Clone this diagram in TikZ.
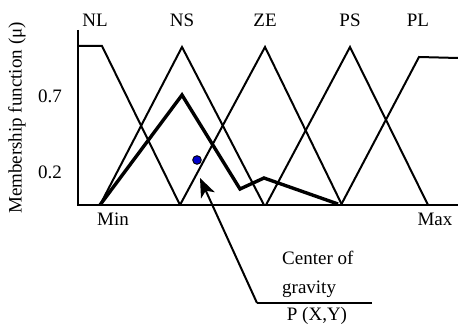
\documentclass[tikz,border=0pt]{standalone}
\usepackage{fontspec}
\setmainfont{Liberation Serif}
\usetikzlibrary{arrows.meta}
\begin{document}
\begin{tikzpicture}[x=1pt,y=-1pt,
  lbl/.style={font=\fontsize{19}{21}\selectfont, inner sep=0pt},
  mf/.style={line width=2pt, line join=miter},
  axis/.style={line width=2.4pt},
  agg/.style={line width=3.4pt, line join=miter},
  ptr/.style={line width=2pt, -{Stealth[length=19pt,width=15pt,inset=5pt]}}]
\useasboundingbox (0,0) rectangle (458,326);
% axes
\draw[axis] (78,30) -- (78,205) -- (458,205);
% membership functions
\draw[mf] (78,46) -- (102,46) -- (180,205);
\draw[mf] (100,205) -- (182,47) -- (264,205);
\draw[mf] (180,205) -- (265,47) -- (342,205);
\draw[mf] (266,205) -- (350,47) -- (428,205);
\draw[mf] (341,205) -- (419,57) -- (458,58);
% aggregated output
\draw[agg] (100,205) -- (182,95) -- (240,189) -- (264,178) -- (338,204);
% centre of gravity
\filldraw[fill=blue!80!black, draw=black, line width=0.9pt] (197,160) circle (4.3);
% labels
\node[lbl] (nl) at (95,20) {NL};
\node[lbl] (ns) at (182,20) {NS};
\node[lbl] (ze) at (265,20) {ZE};
\node[lbl] (ps) at (350,20) {PS};
\node[lbl] (pl) at (418,20) {PL};
\node[lbl] (v07) at (50,96) {0.7};
\node[lbl] (v02) at (50,172) {0.2};
\node[lbl, rotate=90] (ylab) at (17,118) {Membership function (μ)};
\node[lbl] (min) at (113,219) {Min};
\node[lbl] (max) at (435,219) {Max};
\node[lbl, anchor=west] (cog1) at (282,258) {Center of};
\node[lbl, anchor=west] (cog2) at (282,289) {gravity};
\node[lbl] (pxy) at (317,316) {P (X,Y)};
% pointer
\coordinate (elbow) at (257,303);
\coordinate (lineend) at (372,303);
\coordinate (tip) at (200,178);
\draw[line width=2pt] (lineend) -- (elbow);
\draw[ptr] (elbow) -- (tip);
\end{tikzpicture}
\end{document}
